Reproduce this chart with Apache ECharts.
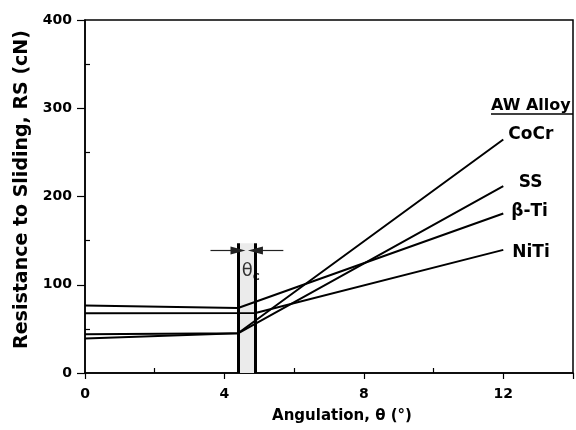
<!DOCTYPE html>
<html>
<head>
<meta charset="utf-8">
<script src="https://cdn.jsdelivr.net/npm/echarts@6/dist/echarts.min.js"></script>
<style>html,body{margin:0;padding:0;background:#fff}#c{width:576px;height:430px}</style>
</head>
<body>
<div id="c"></div>
<script>
// ---- data ----
const alloyNames = ['CoCr', 'SS', 'β-Ti', 'NiTi'];
const cocrAngle = [0, 4.39, 12];
const cocrRS    = [39, 45, 264.6];
const ssAngle   = [0, 4.39, 12];
const ssRS      = [44, 45, 211.8];
const btiAngle  = [0, 4.39, 12];
const btiRS     = [76.6, 73.6, 180.8];
const nitiAngle = [0, 4.89, 12];
const nitiRS    = [67.6, 68, 139.5];
const thetaC = [4.39, 4.89];        // critical-angle band edges
const bandTop = 147;                 // top of band lines (cN)
const arrowRS = 138.8;               // arrow level (cN)
const arrowFrom = [3.6, 5.69];       // arrow tail positions
const thetaLabelPos = [4.76, 115];
const xTicks = [0, 4, 8, 12];
const yTicks = [0, 100, 200, 300, 400];

const FONT = 'DejaVu Sans';
const pair = (xs, ys) => xs.map((x, i) => [x, ys[i]]);
const seriesData = [pair(cocrAngle, cocrRS), pair(ssAngle, ssRS), pair(btiAngle, btiRS), pair(nitiAngle, nitiRS)];
const labelOffsets = [[5, -5], [15.5, -4], [8, -2], [9, 3]];

const chart = echarts.init(document.getElementById('c'), null, {renderer: 'canvas'});
const lineSeries = seriesData.map((d, i) => ({
  type: 'line', name: alloyNames[i], data: d, symbol: 'none',
  lineStyle: {color: '#000', width: 2},
  endLabel: {show: true, formatter: alloyNames[i], position: 'right', distance: 0,
    offset: labelOffsets[i], fontFamily: FONT, fontWeight: 'bold', fontSize: 17, color: '#000'},
  z: 5
}));

const option = {
  animation: false,
  grid: {left: 85, right: 1.5, top: 20, bottom: 57, show: true, borderColor: '#000', borderWidth: 1.5},
  xAxis: {
    type: 'value', min: 0, max: 14, interval: 4,
    name: 'Angulation, θ (°)', nameLocation: 'middle', nameGap: 36,
    nameTextStyle: {fontFamily: FONT, fontWeight: 'bold', fontSize: 15, color: '#000', padding: [0, 0, 0, 26]},
    axisLine: {lineStyle: {color: '#000', width: 1.5}},
    axisTick: {length: 6, lineStyle: {color: '#000', width: 1.2}},
    minorTick: {show: true, splitNumber: 2, length: -5, lineStyle: {color: '#000', width: 1.2}},
    splitLine: {show: false},
    axisLabel: {margin: 14, fontFamily: FONT, fontWeight: 'bold', fontSize: 14, color: '#000',
      formatter: v => xTicks.includes(v) ? String(v) : ''}
  },
  yAxis: {
    type: 'value', min: 0, max: 400, interval: 100,
    name: 'Resistance to Sliding, RS (cN)', nameLocation: 'middle', nameGap: 53, nameRotate: 90,
    nameTextStyle: {fontFamily: FONT, fontWeight: 'bold', fontSize: 19, color: '#000', padding: [0, 0, 0, 14]},
    axisLine: {lineStyle: {color: '#000', width: 1.5}},
    axisTick: {length: 8, lineStyle: {color: '#000', width: 1.2}},
    minorTick: {show: true, splitNumber: 2, length: -5, lineStyle: {color: '#000', width: 1.2}},
    splitLine: {show: false},
    axisLabel: {margin: 13, fontFamily: FONT, fontWeight: 'bold', fontSize: 14, color: '#000',
      formatter: v => yTicks.includes(v) ? String(v) : ''}
  },
  series: [
    {
      type: 'line', data: [], symbol: 'none', silent: true,
      markArea: {silent: true, itemStyle: {color: '#ebebeb'},
        data: [[{coord: [thetaC[0], 0]}, {coord: [thetaC[1], bandTop]}]]},
      markLine: {silent: true, symbol: 'none', label: {show: false},
        lineStyle: {color: '#000', width: 3, type: 'solid'},
        data: thetaC.map(t => [{coord: [t, 0]}, {coord: [t, bandTop]}])},
      z: 2
    },
    {
      type: 'line', data: [], symbol: 'none', silent: true,
      markLine: {silent: true, symbol: ['none', 'triangle'], symbolSize: [8, 15], label: {show: false},
        lineStyle: {color: '#222', width: 1.2, type: 'solid'},
        data: [
          [{coord: [arrowFrom[0], arrowRS]}, {coord: [thetaC[0], arrowRS]}],
          [{coord: [arrowFrom[1], arrowRS]}, {coord: [thetaC[1], arrowRS]}]
        ]},
      z: 3
    },
    {
      type: 'scatter', data: [thetaLabelPos], symbolSize: 0, silent: true,
      label: {show: true, position: 'inside', formatter: '{t|θ}{s|c}',
        rich: {t: {fontFamily: FONT, fontSize: 18, color: '#000'},
               s: {fontFamily: FONT, fontSize: 12, fontWeight: 'bold', color: '#000', verticalAlign: 'bottom', padding: [10, 0, 0, 0]}}}
    },
    ...lineSeries
  ],
  graphic: [
    {type: 'text', left: 491, top: 98, style: {text: 'AW Alloy', font: 'bold 16px "DejaVu Sans"', fill: '#000'}},
    {type: 'line', shape: {x1: 491, y1: 114, x2: 573, y2: 114}, style: {stroke: '#000', lineWidth: 1.5}}
  ]
};
chart.setOption(option);
</script>
</body>
</html>
